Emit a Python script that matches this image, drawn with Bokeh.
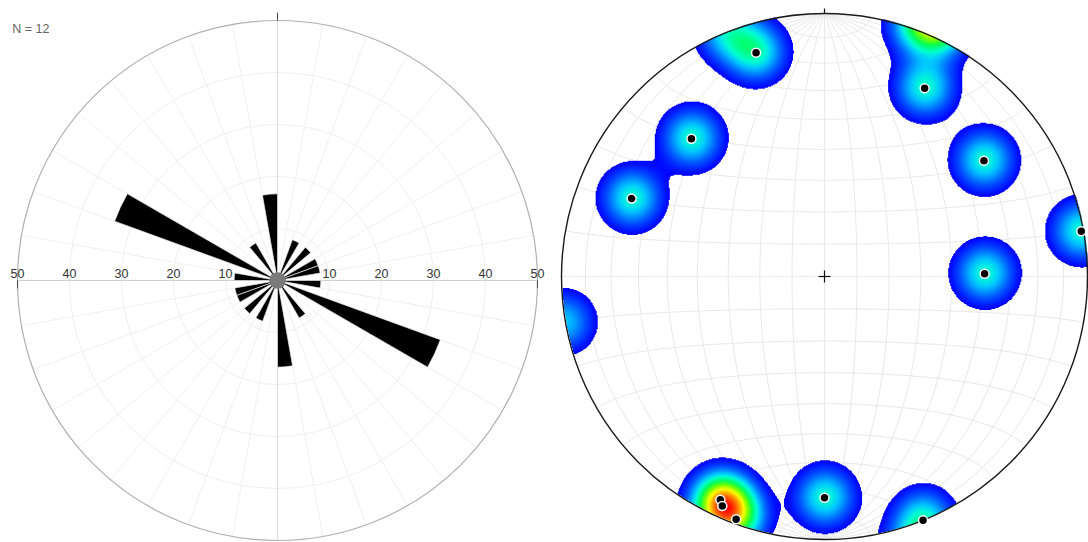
import numpy as np
from bokeh.plotting import figure
from bokeh.layouts import row
from bokeh.models import Range1d, ColumnDataSource
from bokeh.embed import file_html
from bokeh.resources import INLINE
from bokeh.core.properties import value

# ---------------- data ----------------
# Rose diagram: 10-degree bins given by start azimuth (0-180), counts; drawn bidirectionally
rose_bin_start = [20, 40, 60, 70, 90, 110, 140, 170]
rose_count = [1, 1, 1, 1, 1, 4, 1, 2]
n_total = 12
rose_ring_labels = [10, 20, 30, 40, 50]

# Poles to planes: trend / plunge in degrees (lower hemisphere)
pole_trend = [343, 28, 316, 54, 292, 80, 89, 205, 204, 200, 180, 158]
pole_plunge = [12, 20, 28, 26, 22, 1, 39, 7, 5, 2, 17, 0]

FONT = value("Liberation Sans")

# ---------------- rose diagram ----------------
ROSE_MAX = 50
p1 = figure(width=550, height=542, output_backend="svg", toolbar_location=None,
            x_range=Range1d(-277 / 5.2, 273 / 5.2), y_range=Range1d(-262 / 5.2, 280 / 5.2),
            x_axis_type=None, y_axis_type=None, min_border=0)
p1.outline_line_color = None
p1.background_fill_color = "white"

# faint polar grid
for ring in rose_ring_labels[:-1]:
    p1.circle(x=0, y=0, radius=ring, fill_color=None, line_color="#efefef", line_width=1)
az = np.radians(np.arange(0, 360, 10))
p1.segment(x0=np.zeros(len(az)), y0=np.zeros(len(az)),
           x1=ROSE_MAX * np.sin(az), y1=ROSE_MAX * np.cos(az),
           line_color="#f0f0f0", line_width=1)
p1.segment(x0=[-ROSE_MAX, 0], y0=[0, -ROSE_MAX], x1=[ROSE_MAX, 0], y1=[0, ROSE_MAX],
           line_color=["#cfcfcf", "#dddddd"], line_width=1)
p1.circle(x=0, y=0, radius=ROSE_MAX, fill_color=None, line_color="#b0b0b0", line_width=1.2)

# tick marks
p1.segment(x0=[-ROSE_MAX, ROSE_MAX, 0], y0=[0, 0, ROSE_MAX],
           x1=[-ROSE_MAX, ROSE_MAX, 0], y1=[-1.5, -1.5, ROSE_MAX + 1.5],
           line_color="#444444", line_width=1)

# petals (percent of total)
st, en, rad = [], [], []
for a, c in zip(rose_bin_start, rose_count):
    pct = c / n_total * 100
    for off in (0, 180):
        a0 = a + off
        st.append(np.radians(90 - a0 - 10))
        en.append(np.radians(90 - a0))
        rad.append(pct)
petals = ColumnDataSource(dict(x=[0] * len(st), y=[0] * len(st), r=rad, s=st, e=en))
p1.wedge(x="x", y="y", radius="r", start_angle="s", end_angle="e", source=petals,
         fill_color="black", line_color="white", line_width=0.6)
p1.circle(x=0, y=0, radius=1.6, fill_color="#7a7a7a", line_color=None)

# ring labels along the E-W axis
lab_x = [-v for v in rose_ring_labels] + rose_ring_labels
lab_t = [str(v) for v in rose_ring_labels] * 2
p1.text(x=lab_x, y=[0.5] * len(lab_x), text=lab_t, text_align="center",
        text_baseline="bottom", text_font=FONT, text_font_size="12.5px", text_color="#333333")
p1.text(x=[-51.0], y=[48.3], text=[f"N = {n_total}"], text_align="left",
        text_baseline="middle", text_font=FONT, text_font_size="12.5px", text_color="#666666")

# ---------------- stereonet (equal-area, lower hemisphere) ----------------
R_PX = 263.0
p2 = figure(width=538, height=542, output_backend="svg", toolbar_location=None,
            x_range=Range1d(-274 / R_PX, 264 / R_PX), y_range=Range1d(-266 / R_PX, 276 / R_PX),
            x_axis_type=None, y_axis_type=None, min_border=0)
p2.outline_line_color = None
p2.background_fill_color = "white"


def project(vx, vy, vz):
    """Equal-area projection of lower-hemisphere unit vectors (x east, y north, z up)."""
    vx, vy, vz = np.asarray(vx, float), np.asarray(vy, float), np.asarray(vz, float)
    theta = np.arccos(np.clip(-vz, -1, 1))
    r = np.sqrt(2) * np.sin(theta / 2)
    h = np.hypot(vx, vy)
    h = np.where(h == 0, 1, h)
    return r * vx / h, r * vy / h


# net: great circles striking N-S and small circles about the N-S axis, every 10 degrees
phi = np.radians(np.linspace(0, 180, 181))
xs, ys = [], []
for dip in range(10, 91, 10):
    d = np.radians(dip)
    for sgn in (1, -1):
        gx, gy = project(sgn * np.sin(phi) * np.cos(d), np.cos(phi), -np.sin(phi) * np.sin(d))
        xs.append(list(gx)); ys.append(list(gy))
        if dip == 90:
            break
for beta in range(10, 171, 10):
    b = np.radians(beta)
    gx, gy = project(np.sin(b) * np.cos(phi), np.cos(b) * np.ones_like(phi), -np.sin(b) * np.sin(phi))
    xs.append(list(gx)); ys.append(list(gy))
p2.multi_line(xs=xs, ys=ys, line_color="#e8e8e8", line_width=1)

# pole positions
tr = np.radians(pole_trend)
pl = np.radians(pole_plunge)
px, py = project(np.cos(pl) * np.sin(tr), np.cos(pl) * np.cos(tr), -np.sin(pl))

# density (smoothed point density, wrapped across the primitive for axial data)
SIG = 20.5 / R_PX
THR = 0.2
WRAP_W = 0.8
g = np.linspace(-1.03, 1.03, 542)
X, Y = np.meshgrid(g, g)
D = np.zeros_like(X)
for x0, y0 in zip(px, py):
    D += np.exp(-((X - x0) ** 2 + (Y - y0) ** 2) / (2 * SIG ** 2))
    r0 = np.hypot(x0, y0)
    if r0 > 0.5:
        k = -(2 - r0) / r0
        D += WRAP_W * np.exp(-((X - k * x0) ** 2 + (Y - k * y0) ** 2) / (2 * SIG ** 2))
inside = X ** 2 + Y ** 2 <= 1.0
show = inside & (D >= THR)
v = np.clip((D - THR) / (D[inside].max() - THR), 0, 1)

stops = [0.0, 0.12, 0.25, 0.33, 0.45, 0.58, 0.70, 0.85, 1.0]
cr = [0, 0, 0, 0, 0, 120, 255, 255, 255]
cg = [0, 90, 200, 255, 255, 255, 255, 128, 0]
cb = [255, 255, 255, 210, 90, 0, 0, 0, 0]
img = np.zeros(X.shape, dtype=np.uint32)
view = img.view(dtype=np.uint8).reshape(X.shape + (4,))
view[..., 0] = np.interp(v, stops, cr).astype(np.uint8)
view[..., 1] = np.interp(v, stops, cg).astype(np.uint8)
view[..., 2] = np.interp(v, stops, cb).astype(np.uint8)
view[..., 3] = np.where(show, 255, 0).astype(np.uint8)
p2.image_rgba(image=[img], x=-1.03, y=-1.03, dw=2.06, dh=2.06)

# primitive, north tick and centre cross
p2.circle(x=0, y=0, radius=1.0, fill_color=None, line_color="#1a1a1a", line_width=1.4)
c = 6 / R_PX
p2.segment(x0=[0, -c, 0], y0=[1.0, 0, -c], x1=[0, c, 0], y1=[1.0 + 5 / R_PX, 0, c],
           line_color="#111111", line_width=1.2)

p2.scatter(x=px, y=py, size=9, fill_color="black", line_color="white", line_width=1.5)

layout = row(p1, p2, spacing=0)
open("out.html", "w").write(file_html(layout, INLINE))
